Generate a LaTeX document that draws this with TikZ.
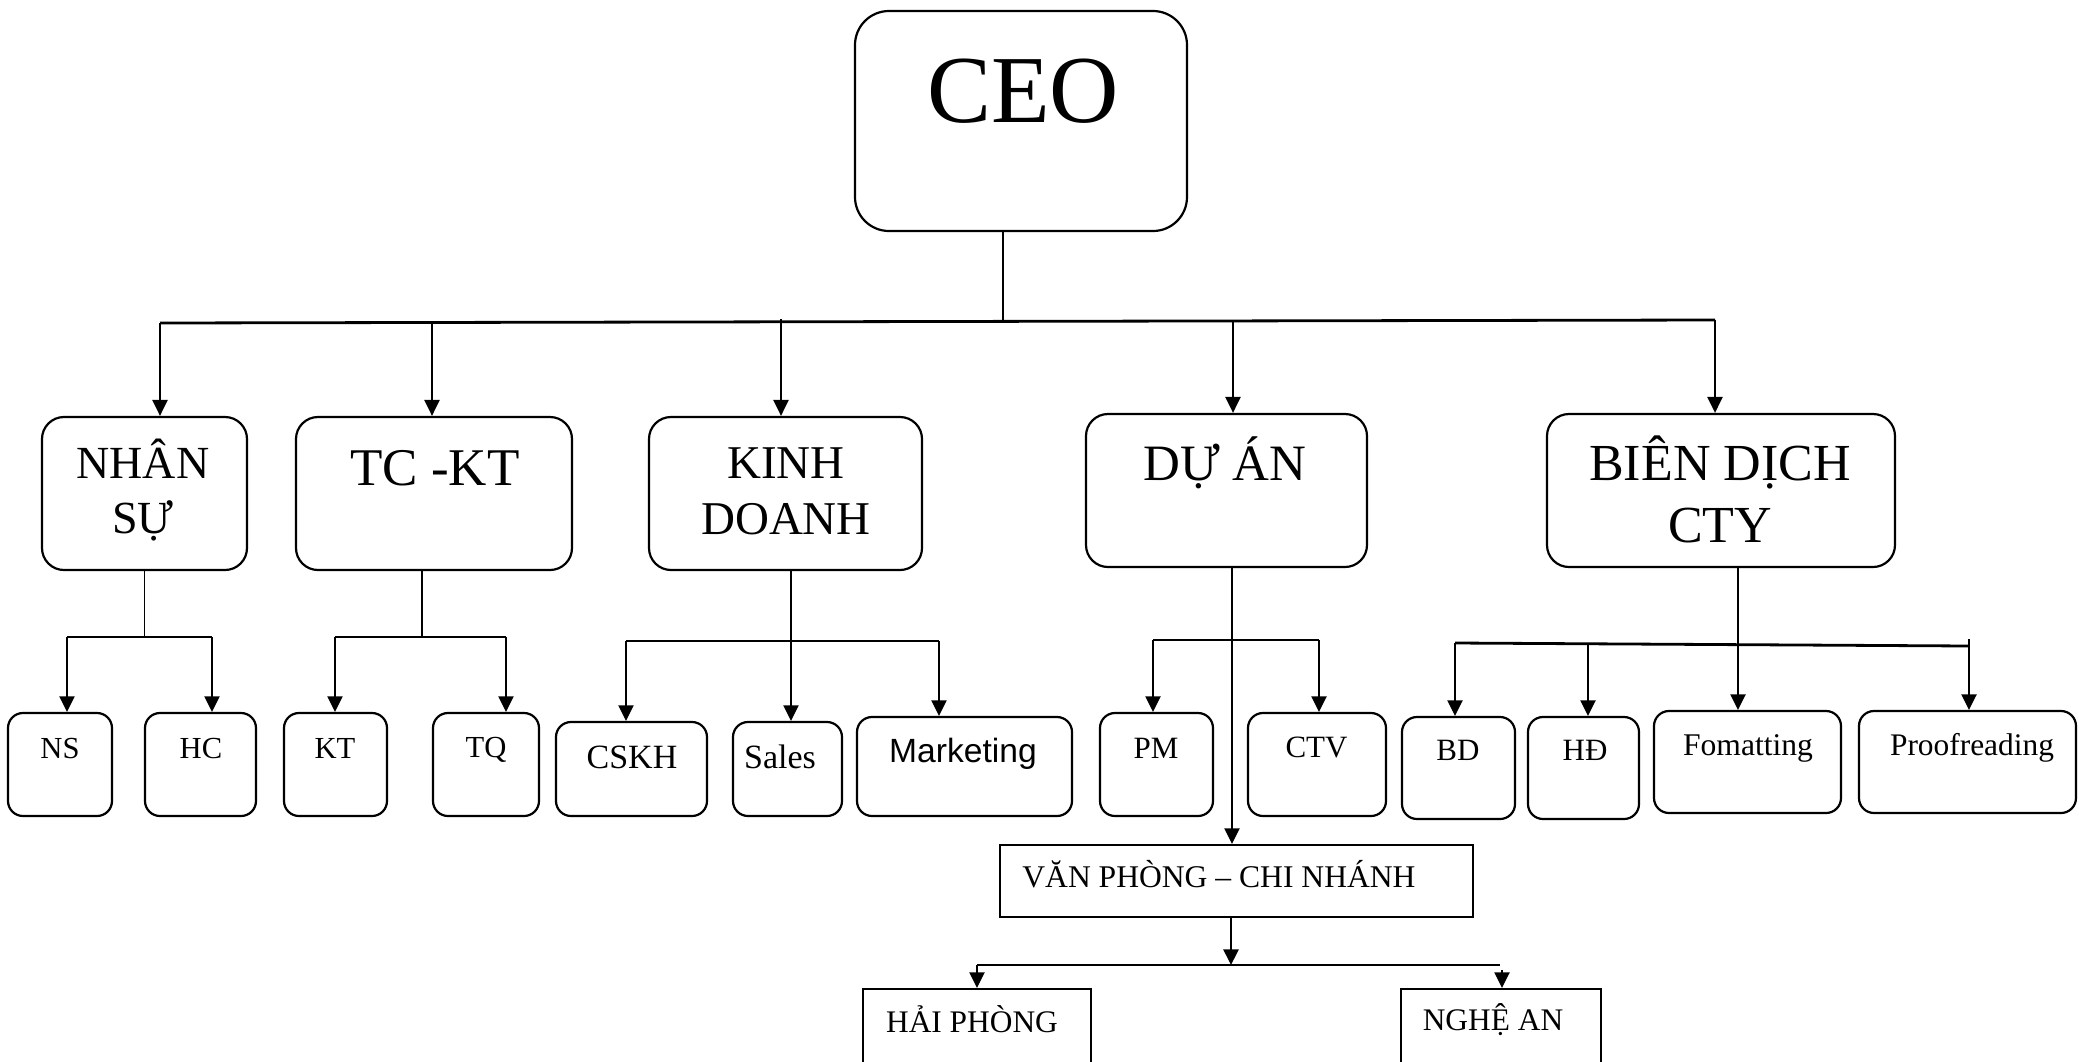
\documentclass[tikz,border=0pt]{standalone}
\usepackage{fontspec}
\setmainfont{Liberation Serif}
\newfontfamily\arialf{Liberation Sans}
\usetikzlibrary{arrows.meta,fit}
\tikzset{
  boxbase/.style={draw=black, line width=1.1pt, inner sep=0pt, fill=white},
  ceobox/.style={boxbase, rounded corners=17pt},
  lvone/.style={boxbase, rounded corners=11pt},
  lvtwo/.style={boxbase, rounded corners=7.5pt},
  sqbox/.style={boxbase, rounded corners=0pt},
  txt/.style={anchor=base, inner sep=0pt, text=black},
  conn/.style={draw=black, line width=0.8pt},
  bus/.style={draw=black, line width=1.4pt},
  arr/.style={draw=black, line width=1.2pt, -{Triangle[length=8pt,width=7.5pt]}},
  arrb/.style={draw=black, line width=1.2pt, -{Triangle[length=7.8pt,width=7.5pt]}},
}
\newcommand{\fs}[1]{\fontsize{#1}{#1}\selectfont}
\begin{document}
\begin{tikzpicture}[x=0.5pt,y=-0.5pt]
\clip (0,0) rectangle (2079,1061);
\fill[white] (0,0) rectangle (2079,1061);

% ---------- boxes ----------
\node[ceobox, fit={(855,11) (1187,231)}] (ceo) {};
\node[lvone, fit={(42,417) (247,570)}] (nhansu) {};
\node[lvone, fit={(296,417) (572,570)}] (tckt) {};
\node[lvone, fit={(649,417) (922,570)}] (kinhdoanh) {};
\node[lvone, fit={(1086,414) (1367,567)}] (duan) {};
\node[lvone, fit={(1547,414) (1895,567)}] (biendich) {};

\node[lvtwo, fit={(8,713) (112,816)}] (ns) {};
\node[lvtwo, fit={(145,713) (256,816)}] (hc) {};
\node[lvtwo, fit={(284,713) (387,816)}] (kt) {};
\node[lvtwo, fit={(433,713) (539,816)}] (tq) {};
\node[lvtwo, fit={(556,722) (707,816)}] (cskh) {};
\node[lvtwo, fit={(733,722) (842,816)}] (sales) {};
\node[lvtwo, fit={(857,717) (1072,816)}] (mkt) {};
\node[lvtwo, fit={(1100,713) (1213,816)}] (pm) {};
\node[lvtwo, fit={(1248,713) (1386,816)}] (ctv) {};
\node[lvtwo, fit={(1402,717) (1515,819)}] (bd) {};
\node[lvtwo, fit={(1528,717) (1639,819)}] (hd) {};
\node[lvtwo, fit={(1654,711) (1841,813)}] (fmt) {};
\node[lvtwo, fit={(1859,711) (2076,813)}] (proof) {};

\node[sqbox, fit={(1000,845) (1473,917)}] (vp) {};
\node[sqbox, fit={(863,989) (1091,1075)}] (hp) {};
\node[sqbox, fit={(1401,989) (1601,1075)}] (na) {};

% ---------- texts ----------
\node[txt, font=\fs{48}] (tceo) at (1023,122) {CEO};
\node[txt, font=\fs{23}] (tns1) at (143,478) {NHÂN};
\node[txt, font=\fs{23}] (tns2) at (143,533) {SỰ};
\node[txt, font=\fs{26.5}] (ttckt) at (435,485) {TC -KT};
\node[txt, font=\fs{23.5}] (tkd1) at (786,478) {KINH};
\node[txt, font=\fs{23.5}] (tkd2) at (786,534) {DOANH};
\node[txt, font=\fs{25.5}] (tda) at (1225,480) {DỰ ÁN};
\node[txt, font=\fs{26}] (tbd1) at (1720,480) {BIÊN DỊCH};
\node[txt, font=\fs{26}] (tbd2) at (1720,542) {CTY};

\node[txt, font=\fs{15.3}] (tnsx) at (60,758) {NS};
\node[txt, font=\fs{15.3}] (thc) at (201,758) {HC};
\node[txt, font=\fs{15.3}] (tkt) at (335,758) {KT};
\node[txt, font=\fs{15.3}] (ttq) at (486,757) {TQ};
\node[txt, font=\fs{17}] (tcskh) at (632,768) {CSKH};
\node[txt, font=\fs{17}] (tsales) at (780,768) {Sales};
\node[txt, font=\arialf\fs{16.8}] (tmkt) at (963,762) {Marketing};
\node[txt, font=\fs{15.5}] (tpm) at (1156,758) {PM};
\node[txt, font=\fs{15.5}] (tctv) at (1316.5,757) {CTV};
\node[txt, font=\fs{15.5}] (tbd) at (1458,760) {BD};
\node[txt, font=\fs{15.5}] (thd) at (1585,760) {HĐ};
\node[txt, font=\fs{15.8}] (tfmt) at (1748,755) {Fomatting};
\node[txt, font=\fs{15.7}] (tproof) at (1972,755) {Proofreading};
\node[txt, font=\fs{15.8}] (tvp) at (1219,887) {VĂN PHÒNG – CHI NHÁNH};
\node[txt, font=\fs{15.7}] (thp) at (972,1032) {HẢI PHÒNG};
\node[txt, font=\fs{15.7}] (tna) at (1493,1030) {NGHỆ AN};

% ---------- CEO to level 1 ----------
\coordinate (j0) at (1003,322);
\coordinate (b1) at (160,323);
\coordinate (b2) at (432,322.5);
\coordinate (b3) at (781,319);
\coordinate (b4) at (1233,321);
\coordinate (b5) at (1715,320);
\draw[conn] (ceo.south -| j0) -- (j0);
\draw[bus] (b1) -- (b5);
\draw[arr] (b1) -- (b1 |- nhansu.north);
\draw[arr] (b2) -- (b2 |- tckt.north);
\draw[arr] (b3) -- (b3 |- kinhdoanh.north);
\draw[arr] (b4) -- (b4 |- duan.north);
\draw[arr] (b5) -- (b5 |- biendich.north);

% ---------- NHAN SU ----------
\coordinate (n0) at (144.5,637);
\coordinate (n1) at (67,637);
\coordinate (n2) at (212,637);
\draw[conn] (nhansu.south) -- (n0);
\draw[bus] (n1) -- (n2);
\draw[arrb] (n1) -- (n1 |- ns.north);
\draw[arrb] (n2) -- (n2 |- hc.north);

% ---------- TC-KT ----------
\coordinate (k0) at (422,637);
\coordinate (k1) at (335,637);
\coordinate (k2) at (506,637);
\draw[conn] (tckt.south -| k0) -- (k0);
\draw[bus] (k1) -- (k2);
\draw[arrb] (k1) -- (k1 |- kt.north);
\draw[arrb] (k2) -- (k2 |- tq.north);

% ---------- KINH DOANH ----------
\coordinate (d0) at (791,641);
\coordinate (d1) at (626,641);
\coordinate (d2) at (939,641);
\draw[bus] (d1) -- (d2);
\draw[arrb] (kinhdoanh.south -| d0) -- (d0 |- sales.north);
\draw[arrb] (d1) -- (d1 |- cskh.north);
\draw[arrb] (d2) -- (d2 |- mkt.north);

% ---------- DU AN ----------
\coordinate (a0) at (1232,640);
\coordinate (a1) at (1153,640);
\coordinate (a2) at (1319,640);
\draw[bus] (a1) -- (a2);
\draw[arrb] (duan.south -| a0) -- (a0 |- vp.north);
\draw[arrb] (a1) -- (a1 |- pm.north);
\draw[arrb] (a2) -- (a2 |- ctv.north);

% ---------- BIEN DICH ----------
\coordinate (c0) at (1738,645);
\coordinate (c1) at (1455,643);
\coordinate (c2) at (1588,643.8);
\coordinate (c4) at (1969,646);
\coordinate (c5) at (1969,639);
\draw[bus] (c1) -- (c4);
\draw[arrb] (biendich.south -| c0) -- (c0 |- fmt.north);
\draw[arrb] (c1) -- (c1 |- bd.north);
\draw[arrb] (c2) -- (c2 |- hd.north);
\draw[arrb] (c5) -- (c5 |- proof.north);

% ---------- VAN PHONG ----------
\coordinate (v0) at (1231,965);
\coordinate (v1) at (977,965);
\coordinate (v2) at (1500,965);
\coordinate (v3) at (1502,970);
\draw[arrb] (vp.south -| v0) -- (v0);
\draw[bus] (v1) -- (v2);
\draw[arrb] (v1) -- (v1 |- hp.north);
\draw[arrb] (v3) -- (v3 |- na.north);
\end{tikzpicture}
\end{document}
